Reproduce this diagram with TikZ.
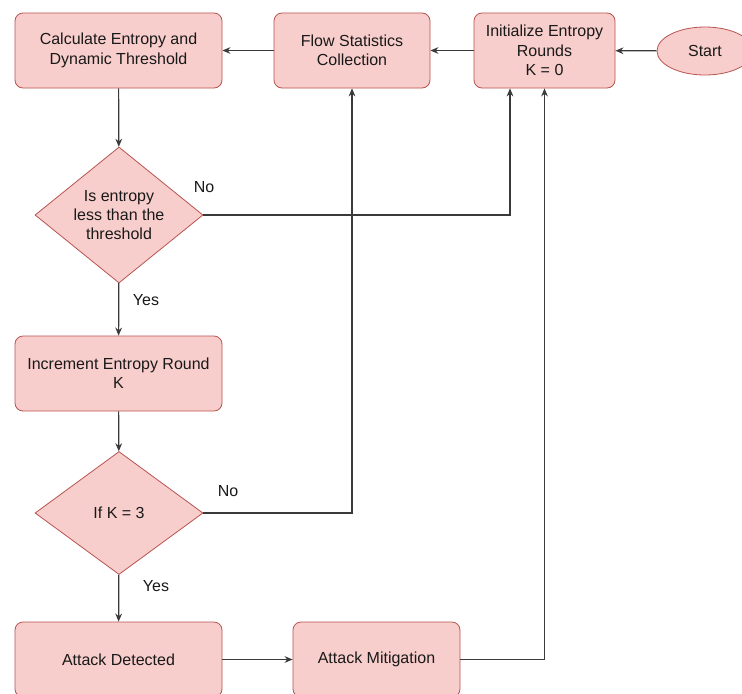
\documentclass[tikz,border=0pt]{standalone}
\usepackage{fontspec}
\setmainfont{Liberation Sans}
\usetikzlibrary{calc,shapes.geometric,arrows.meta}
\definecolor{boxfill}{HTML}{F8CECC}
\definecolor{boxline}{HTML}{B85450}
\definecolor{wire}{HTML}{3A3A3A}
\tikzset{
  procbox/.style={draw=boxline, fill=boxfill, rounded corners=6pt, line width=0.6pt,
    minimum height=75*0.75pt, inner sep=0pt, align=center, text=black!90,
    font=\fontsize{12}{14.5}\selectfont},
  decision/.style={draw=boxline, fill=boxfill, diamond, line width=0.6pt, inner sep=0pt,
    align=center, text=black!90, font=\fontsize{12}{14}\selectfont},
  flowline/.style={draw=wire, line width=0.9pt, -{Stealth[length=6pt,width=5pt]}},
  lbl/.style={text=black!90, font=\fontsize{12}{14}\selectfont}
}
\begin{document}
\begin{tikzpicture}[x=0.75pt, y=-0.75pt]
			%%%%% START %%%%%
			\useasboundingbox (0,0) rectangle (742,693);
			\fill[white] (0,0) rectangle (742,693);
			\clip (0,0) rectangle (742,693);
			
			% top row
			\node[procbox, minimum width=207*0.75pt] (calc) at (118.5,50.5) {Calculate Entropy and\\Dynamic Threshold};
			\node[procbox, minimum width=156*0.75pt] (flow) at (352,50.5) {Flow Statistics\\Collection};
			\node[procbox, minimum width=141*0.75pt] (init) at (544.5,50.5) {Initialize Entropy\\Rounds\\K = 0};
			\node[draw=boxline, fill=boxfill, ellipse, line width=0.6pt, minimum width=96*0.75pt, minimum height=48*0.75pt,
				font=\fontsize{12}{14}\selectfont, text=black!90] (start) at (705,51) {Start};
			
			% left column
			\node[decision, minimum width=168*0.75pt, minimum height=136*0.75pt, shape aspect=1.235] (entcheck) at (119,215) {Is entropy\\less than the\\threshold};
			\node[procbox, minimum width=207*0.75pt] (incr) at (118.5,373.5) {Increment Entropy Round\\K};
			\node[decision, minimum width=168*0.75pt, minimum height=123*0.75pt, shape aspect=1.366] (kcheck) at (119,513) {If K = 3};
			\node[procbox, minimum width=207*0.75pt] (detect) at (118.5,659.5) {Attack Detected};
			\node[procbox, minimum width=167*0.75pt] (mitig) at (376.5,659.5) {Attack Mitigation};
			
			% labels
			\node[lbl] (no1) at (204,187) {No};
			\node[lbl] (yes1) at (146,300) {Yes};
			\node[lbl] (no2) at (228,491) {No};
			\node[lbl] (yes2) at (156,586) {Yes};
			
			% connectors
			\draw[flowline] (start) -- (init);
			\draw[flowline] (init) -- (flow);
			\draw[flowline] (flow) -- (calc);
			\draw[flowline] (calc) -- (entcheck);
			\draw[flowline] (entcheck) -- (incr);
			\draw[flowline] (incr) -- (kcheck);
			\draw[flowline] (kcheck) -- (detect);
			\draw[flowline] (detect) -- (mitig);
			\draw[flowline] (entcheck.east) -| ($(init.south)+(-34.5,0)$);
			\draw[flowline] (kcheck.east) -| (flow.south);
			\draw[flowline] (mitig.east) -| (init.south);
			
			%%%%% END %%%%%
\end{tikzpicture}
\end{document}
